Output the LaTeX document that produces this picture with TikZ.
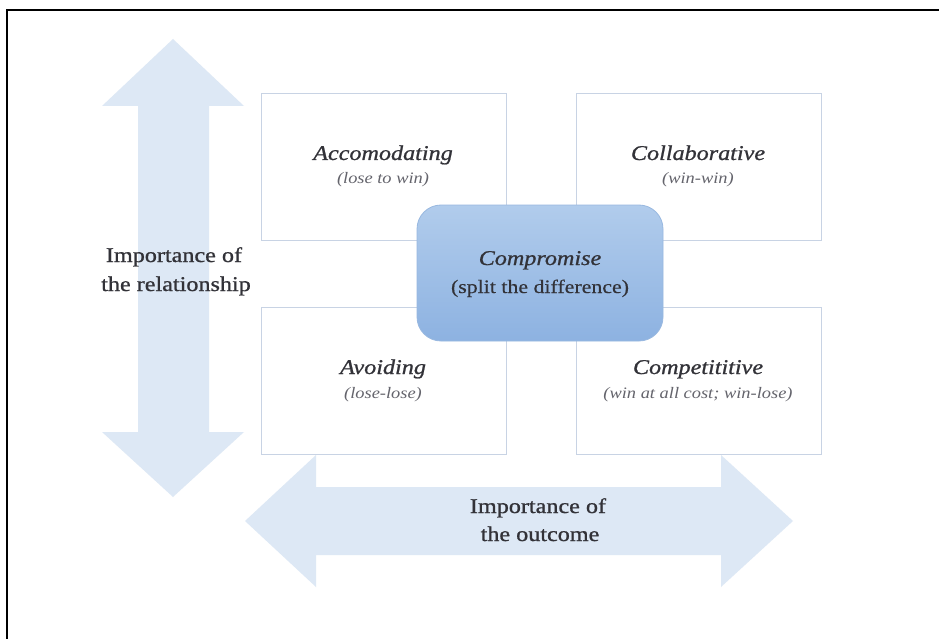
\documentclass[tikz,border=0pt]{standalone}
\usepackage{fontspec}
\setmainfont{Liberation Serif}[FakeStretch=1.15]
\newfontfamily\heavyfam{Liberation Serif}[FakeStretch=1.15, FakeBold=0.9]
\newfontfamily\midfam{Liberation Serif}[FakeStretch=1.15, FakeBold=0.5]
\definecolor{arrowblue}{RGB}{221,232,245}
\definecolor{boxline}{RGB}{200,211,228}
\definecolor{titlegray}{RGB}{50,50,56}
\definecolor{subgray}{RGB}{100,100,108}
\definecolor{comptop}{RGB}{177,204,236}
\definecolor{compbot}{RGB}{141,178,225}
\definecolor{compline}{RGB}{152,184,224}
\tikzset{
  quad/.style={draw=boxline, line width=1.3pt, fill=white, minimum width=245pt, minimum height=147pt, inner sep=0pt, anchor=north west},
  comp/.style={draw=compline, line width=0.8pt, rounded corners=24pt, top color=comptop, bottom color=compbot, minimum width=246pt, minimum height=136pt, inner sep=0pt},
  ttl/.style={anchor=base, inner sep=0pt, text=titlegray, font=\heavyfam\fontsize{21}{25}\selectfont\itshape},
  sub/.style={anchor=base, inner sep=0pt, text=subgray, font=\fontsize{16}{19}\selectfont\itshape},
  side/.style={anchor=base, inner sep=0pt, text=titlegray, font=\heavyfam\fontsize{21}{25}\selectfont},
  arrowshape/.style={fill=arrowblue}
}
\begin{document}
\begin{tikzpicture}[x=1pt,y=-1pt]
\useasboundingbox (0,0) rectangle (939,639);
\fill[white] (0,0) rectangle (939,639);
\draw[black, line width=2pt] (7,639) -- (7,10) -- (939,10);
% vertical double arrow
\fill[arrowshape] (173,39) -- (244,106) -- (209,106) -- (209,432) -- (244,432) -- (173,497)
  -- (102,432) -- (138,432) -- (138,106) -- (102,106) -- cycle;
% horizontal double arrow
\fill[arrowshape] (245,521) -- (316,455) -- (316,487) -- (721,487) -- (721,455) -- (793,521)
  -- (721,587) -- (721,555) -- (316,555) -- (316,587) -- cycle;
% quadrant boxes
\node[quad] (acc) at (261,93) {};
\node[quad] (col) at (576,93) {};
\node[quad] (avo) at (261,307) {};
\node[quad] (cpt) at (576,307) {};
% compromise
\node[comp] (cmp) at (540,273) {};
% texts
\node[ttl] (acct) at (383,160) {Accomodating};
\node[sub] (accs) at (383,184) {(lose to win)};
\node[ttl] (colt) at (698,160) {Collaborative};
\node[sub] (cols) at (698,184) {(win-win)};
\node[ttl] (avot) at (383,374) {Avoiding};
\node[sub] (avos) at (383,398) {(lose-lose)};
\node[ttl] (cptt) at (698,374) {Competititive};
\node[sub] (cpts) at (698,398) {(win at all cost; win-lose)};
\node[ttl] (cmpt) at (540,265) {Compromise};
\node[anchor=base, inner sep=0pt, text=titlegray, font=\midfam\fontsize{19}{23}\selectfont] (cmps) at (540,293) {(split the difference)};
\node[side] (rel1) at (174,262) {Importance of};
\node[side] (rel2) at (176,291) {the relationship};
\node[side] (out1) at (538,513) {Importance of};
\node[side] (out2) at (540,541) {the outcome};
\end{tikzpicture}
\end{document}
